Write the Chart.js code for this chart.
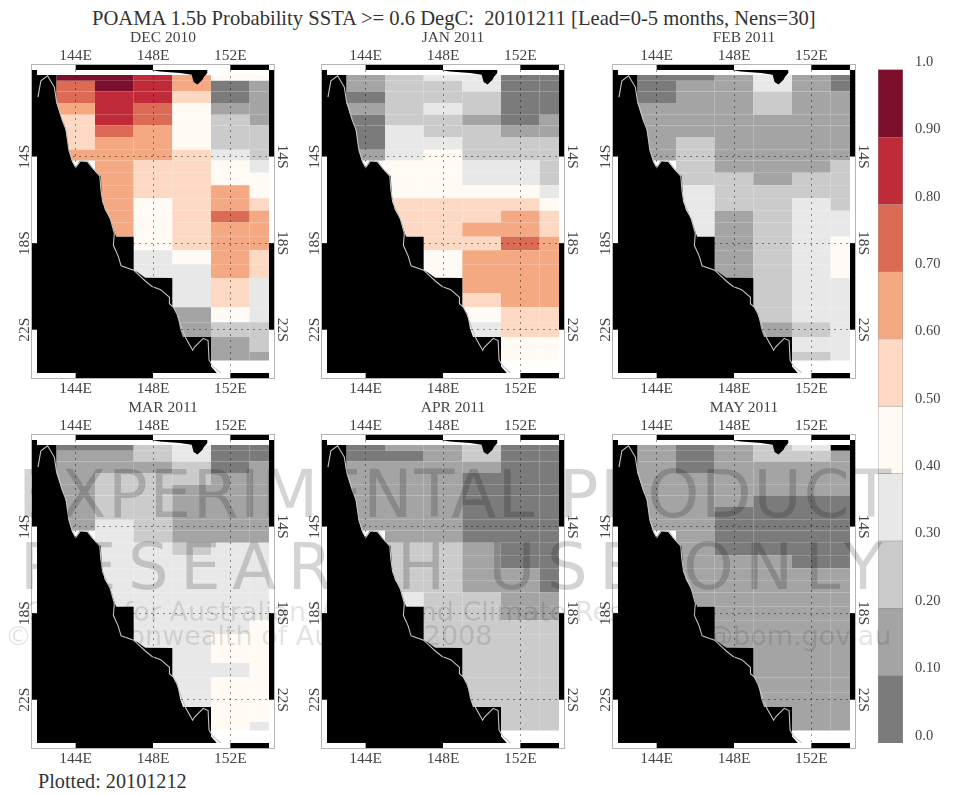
<!DOCTYPE html>
<html>
<head>
<meta charset="utf-8">
<title>POAMA 1.5b Probability SSTA</title>
<script src="https://cdn.jsdelivr.net/npm/chart.js@4"></script>
<style>
  html, body { margin: 0; background: #fff; }
  #page { position: relative; width: 955px; height: 795px; overflow: hidden; filter: blur(0.65px); background: #fff; }
  canvas { position: absolute; }
  .txt { position: absolute; font-family: "Liberation Serif", serif; color: #333; white-space: pre; }
  .ptitle { position: absolute; width: 200px; text-align: center; font-family: "Liberation Serif", serif; font-size: 15.5px; color: #444; }
  .wm { position: absolute; font-family: "DejaVu Sans", sans-serif; color: rgba(0,0,0,0.17); white-space: pre; pointer-events: none; }
</style>
</head>
<body>
<div id="page">
  <div class="txt" style="left:92px;top:7px;font-size:20.6px">POAMA 1.5b Probability SSTA &gt;= 0.6 DegC:  20101211 [Lead=0-5 months, Nens=30]</div>
  <div class="txt" style="left:38px;top:770px;font-size:20.2px">Plotted: 20101212</div>
  <div id="marks"></div>
  <div class="wm" style="left:18px;top:456px;font-size:66px;letter-spacing:1.6px">EXPERIMENTAL PRODUCT</div>
  <div class="wm" style="left:20px;top:530px;font-size:64px;letter-spacing:11.6px">RESEARCH USE ONLY</div>
  <div class="wm" style="left:25px;top:596px;font-size:27px;color:rgba(0,0,0,0.11)">Centre for Australian Water and Climate Research</div>
  <div class="wm" style="left:5px;top:620px;font-size:27px;color:rgba(0,0,0,0.11)">© Commonwealth of Australia 2008</div>
  <div class="wm" style="left:613px;top:620px;font-size:27px;color:rgba(0,0,0,0.11)">poama@bom.gov.au</div>
</div>
<script>
// Grid of the model: column centres (deg E) and row edges (deg, south is negative)
const lons = [144, 146, 148, 150, 152, 154];
const latEdges = [-10.23, -10.5, -10.99, -11.53, -12.07, -12.57, -13.1, -13.68, -14.18, -14.75, -15.32, -15.92,
  -16.5, -17.05, -17.7, -18.33, -18.97, -19.61, -20.3, -20.96, -21.65, -22.34, -23.03, -23.42];

const lonTicks = [144, 148, 152];
const latTicks = [-14, -18, -22];
const frameLons = [142, 144, 148, 152, 154];
const frameLats = [-10, -14, -18, -22, -24];

const _ = null;  // no ocean value under the land
const NA = -1;   // missing ocean cell, plotted black

const dec2010 = [
  [.95,.95,.85,.65,.45,.45],
  [.75,.95,.85,.65,.05,.15],
  [.75,.85,.85,.55,.05,.15],
  [.65,.85,.75,.45,.15,.15],
  [.55,.85,.75,.45,.25,.15],
  [.55,.75,.65,.45,.25,.25],
  [.55,.65,.65,.45,.25,.25],
  [.65,.65,.65,.55,.35,.25],
  [_,.65,.55,.55,.45,.35],
  [_,.65,.55,.55,.45,.45],
  [_,.65,.55,.55,.65,.45],
  [_,.65,.45,.55,.65,.55],
  [_,.65,.45,.55,.75,.65],
  [_,.65,.45,.55,.65,.65],
  [_,_,.45,.55,.65,.65],
  [_,_,.35,.45,.65,.55],
  [_,_,.35,.35,.65,.55],
  [_,_,_,.35,.55,.35],
  [_,_,_,.35,.55,.35],
  [_,_,_,.15,.45,.35],
  [_,_,_,.15,.25,.25],
  [_,_,_,_,.15,.25],
  [_,_,_,_,.15,.15]
];
const jan2011 = [
  [.15,.25,.35,.35,.05,.05],
  [.15,.25,.25,.35,.05,.05],
  [.05,.25,.25,.25,.05,.05],
  [.15,.25,.35,.25,.05,.05],
  [.05,.25,.25,.15,.05,.15],
  [.05,.35,.25,.25,.15,.15],
  [.05,.35,.35,.25,.25,.25],
  [.15,.35,.45,.25,.25,.25],
  [_,.45,.45,.35,.35,.25],
  [_,.45,.45,.35,.35,.25],
  [_,.45,.45,.45,.45,.35],
  [_,.55,.55,.55,.55,.45],
  [_,.55,.55,.55,.65,.55],
  [_,.55,.55,.65,.65,.55],
  [_,_,.55,.55,.75,.65],
  [_,_,.45,.65,.65,.65],
  [_,_,.45,.65,.65,.65],
  [_,_,_,.65,.65,.65],
  [_,_,_,.55,.65,.65],
  [_,_,_,.45,.55,.55],
  [_,_,_,.35,.55,.55],
  [_,_,_,_,.45,.45],
  [_,_,_,_,.45,.45]
];
const feb2011 = [
  [.05,.05,.15,.35,.15,.05],
  [.05,.15,.15,.35,.15,.05],
  [.05,.15,.15,.25,.15,.15],
  [.15,.15,.15,.25,.15,.15],
  [.15,.15,.15,.15,.15,.15],
  [.15,.15,.15,.15,.15,.15],
  [.15,.25,.15,.15,.15,.15],
  [.15,.25,.15,.15,.15,.15],
  [_,.25,.15,.15,.15,.25],
  [_,.25,.25,.15,.25,.25],
  [_,.35,.25,.25,.25,.25],
  [_,.35,.25,.25,.35,.25],
  [_,.35,.15,.25,.35,.35],
  [_,.35,.15,.25,.35,.35],
  [_,_,.15,.25,.35,.45],
  [_,_,.15,.25,.35,.45],
  [_,_,.15,.25,.35,.45],
  [_,_,_,.25,.35,.35],
  [_,_,_,.25,.35,.35],
  [_,_,_,.25,.35,.35],
  [_,_,_,.15,.25,.35],
  [_,_,_,_,.35,.35],
  [_,_,_,_,.25,.35]
];
const mar2011 = [
  [.05,.05,.25,.35,.05,.05],
  [.15,.15,.25,.35,.05,.05],
  [.15,.15,.15,.25,.05,.15],
  [.15,.25,.25,.25,.15,.15],
  [.15,.25,.25,.15,.15,.15],
  [.15,.25,.25,.15,.15,.15],
  [.15,.25,.25,.15,.15,.15],
  [.15,.35,.25,.15,.15,.15],
  [_,.35,.25,.15,.15,.15],
  [_,.35,.35,.25,.35,.35],
  [_,.35,.35,.35,.35,.35],
  [_,.35,.35,.35,.35,.35],
  [_,.35,.35,.35,.35,.35],
  [_,.35,.35,.35,.35,.35],
  [_,_,.35,.35,.35,.35],
  [_,_,.35,.35,.35,.45],
  [_,_,.35,.35,.45,.45],
  [_,_,_,.35,.45,.45],
  [_,_,_,.35,.35,.45],
  [_,_,_,.35,.45,.45],
  [_,_,_,.35,.45,.45],
  [_,_,_,_,.45,.45],
  [_,_,_,_,.45,.35]
];
const apr2011 = [
  [.05,.15,.15,.25,.05,.05],
  [.05,.05,.15,.25,.05,.05],
  [.15,.15,.15,.15,.05,.05],
  [.15,.15,.15,.05,.05,.05],
  [.15,.15,.15,.05,.05,.05],
  [.15,.15,.15,.05,.05,.05],
  [.15,.15,.15,.05,.05,.05],
  [.15,.15,.15,.05,.05,.05],
  [_,.15,.15,.05,.05,.05],
  [_,.25,.25,.15,.05,.05],
  [_,.25,.25,.15,.05,.05],
  [_,.25,.25,.15,.15,.05],
  [_,.25,.25,.15,.15,.05],
  [_,.35,.25,.25,.15,.15],
  [_,_,.25,.25,.15,.15],
  [_,_,.25,.25,.25,.25],
  [_,_,.25,.25,.25,.25],
  [_,_,_,.25,.25,.25],
  [_,_,_,.25,.25,.25],
  [_,_,_,.25,.25,.25],
  [_,_,_,.25,.25,.25],
  [_,_,_,_,.25,.25],
  [_,_,_,_,.25,.25]
];
const may2011 = [
  [.15,.05,.15,.25,.35,NA],
  [.15,.05,.15,.25,.25,.15],
  [.15,.05,.15,.15,.15,.15],
  [.15,.15,.15,.15,.15,.15],
  [.15,.15,.15,.15,.15,.15],
  [.15,.15,.15,.05,.05,.05],
  [.15,.15,.05,.05,.05,.05],
  [.15,.15,.05,.05,.05,.05],
  [_,.15,.05,.05,.05,.05],
  [_,.15,.05,.05,.05,.05],
  [_,.15,.15,.15,.05,.05],
  [_,.15,.15,.15,.15,.15],
  [_,.15,.15,.15,.15,.15],
  [_,.15,.15,.15,.15,.15],
  [_,_,.15,.15,.15,.15],
  [_,_,.15,.15,.15,.15],
  [_,_,.15,.15,.15,.15],
  [_,_,_,.15,.15,.15],
  [_,_,_,.15,.15,.15],
  [_,_,_,.15,.15,.15],
  [_,_,_,.15,.15,.15],
  [_,_,_,_,.15,.15],
  [_,_,_,_,.15,.15]
];

const panelTitles = ["DEC 2010", "JAN 2011", "FEB 2011", "MAR 2011", "APR 2011", "MAY 2011"];
const panelValues = [dec2010, jan2011, feb2011, mar2011, apr2011, may2011];

// Land mask outline, lon then lat
const landLon = [142, 143, 143, 143.2, 143.3, 143.45, 143.55, 143.65, 143.8, 144, 144.2, 144.6, 145, 145.3, 145.35, 145.5, 145.8, 146.05, 146.1, 147, 147, 147.2, 147.6, 149, 149, 149.25, 149.4, 149.55, 151, 151, 151.3, 151.5];
const landLat = [-10.23, -10.23, -11.53, -12.07, -12.3, -12.6, -13.1, -13.7, -14.2, -14.5, -14.2, -14.25, -14.68, -14.9, -15.8, -16.45, -16.9, -17.6, -17.7, -17.7, -19.25, -19.35, -19.6, -19.61, -20.9, -21.25, -21.95, -22.34, -22.34, -23.7, -24, -24];

// Coastline drawn in grey on top of the mask
const coastLon = [142.05, 142.2, 142.55, 142.9, 143, 143.3, 143.5, 143.65, 143.85, 144, 144.25, 144.6, 144.85, 145.25, 145.3, 145.4, 145.8, 146, 145.95, 146.2, 146.35, 147, 147.6, 147.95, 148.4, 148.85, 148.85, 149.05, 149.25, 149.5, 149.7, 150.05, 150.15, 150.6, 150.85, 150.9, 151.1, 151.5];
const coastLat = [-11.25, -10.5, -10.27, -10.8, -11.4, -12.3, -12.75, -13.7, -14.25, -14.5, -14.2, -14.2, -14.5, -14.9, -15.5, -16.1, -16.9, -17.55, -18.1, -18.6, -19.05, -19.25, -19.75, -20, -20.15, -20.5, -20.8, -20.95, -21.3, -21.95, -22.4, -22.95, -22.8, -22.4, -22.5, -23.4, -23.7, -24];

// Island at the top of the map
const islandLon = [147.9, 148.35, 149.4, 150, 150.1, 150.3, 150.55, 150.65, 150.8, 150.82];
const islandLat = [-10.0, -10.07, -10.14, -10.22, -10.55, -10.67, -10.46, -10.3, -10.15, -10.0];

// Colour bar
const levelEdges = [0, .1, .2, .3, .4, .5, .6, .7, .8, .9, 1];
const levelColors = ["#7b7b7b", "#a4a4a4", "#cbcbcb", "#e8e8e8", "#fffaf4", "#fdd9c4", "#f4a982", "#dc6b55", "#c02b39", "#7b0f2c"];
const levelLabels = ["0.0", "0.10", "0.20", "0.30", "0.40", "0.50", "0.60", "0.70", "0.80", "0.90", "1.0"];

// Panel placement (plot area) on the page
const panelLeft = [37, 327, 618, 37, 327, 618];
const panelTop = [70, 70, 70, 440, 440, 440];
const plotW = 232, plotH = 303;
const marginX = 40, marginTop = 40, marginBottom = 30;

Chart.defaults.font.family = '"Liberation Serif", serif';
Chart.defaults.font.size = 15.5;
Chart.defaults.color = "#444";
Chart.defaults.animation = false;

const page = document.getElementById("page");
const marks = document.getElementById("marks");

function addCanvas(left, top, w, h) {
  const c = document.createElement("canvas");
  c.width = w;
  c.height = h;
  c.style.left = left + "px";
  c.style.top = top + "px";
  marks.appendChild(c);
  return c;
}

function colorFor(v) {
  if (v < 0) return "#000";
  for (let i = 0; i < levelColors.length; i++) {
    if (v < levelEdges[i + 1]) return levelColors[i];
  }
  return levelColors[levelColors.length - 1];
}

function toPoints(xs, ys) {
  return xs.map((x, i) => ({ x: x, y: ys[i] }));
}

// Map style border: box with alternating black and white pieces
const frameBorder = {
  id: "frameBorder",
  afterDraw(chart) {
    const { ctx, chartArea: a, scales } = chart;
    const th = 5;
    ctx.save();
    ctx.strokeStyle = "#b5b5b5";
    ctx.lineWidth = 1;
    ctx.strokeRect(a.left - th - 0.5, a.top - th - 0.5, a.right - a.left + 2 * th + 1, a.bottom - a.top + 2 * th + 1);
    ctx.fillStyle = "#000";
    for (let i = 1; i < frameLons.length - 1; i += 2) {
      const x1 = scales.x.getPixelForValue(frameLons[i]);
      const x2 = scales.x.getPixelForValue(frameLons[i + 1]);
      ctx.fillRect(x1, a.top - th, x2 - x1, th);
      ctx.fillRect(x1, a.bottom, x2 - x1, th);
    }
    for (let i = 0; i < frameLats.length - 1; i += 2) {
      const y1 = scales.y.getPixelForValue(frameLats[i]);
      const y2 = scales.y.getPixelForValue(frameLats[i + 1]);
      ctx.fillRect(a.left - th, y1, th, y2 - y1);
      ctx.fillRect(a.right, y1, th, y2 - y1);
    }
    ctx.restore();
  }
};

function setLonTicks(scale) {
  scale.ticks = lonTicks.map(v => ({ value: v }));
}
function setLatTicks(scale) {
  scale.ticks = latTicks.map(v => ({ value: v }));
}

function drawPanel(i) {
  const canvas = addCanvas(panelLeft[i] - marginX, panelTop[i] - marginTop, plotW + 2 * marginX, plotH + marginTop + marginBottom);
  const values = panelValues[i];
  const cells = [], colors = [];
  values.forEach((row, r) => {
    row.forEach((v, c) => {
      if (v === null) return;
      cells.push({ x: lons[c], y: [latEdges[r + 1], latEdges[r]] });
      colors.push(colorFor(v));
    });
  });

  // Month label sits a bit right of the plot centre, as in the original
  const label = document.createElement("div");
  label.className = "ptitle";
  label.textContent = panelTitles[i];
  label.style.left = (panelLeft[i] + plotW / 2 + 10 - 100) + "px";
  label.style.top = (panelTop[i] - 42) + "px";
  page.appendChild(label);

  new Chart(canvas, {
    type: "bar",
    data: {
      datasets: [
        { type: "line", data: toPoints(coastLon, coastLat), borderColor: "#c4c4c4", borderWidth: 1.1, pointRadius: 0, fill: false, order: 0 },
        { type: "line", data: toPoints(landLon, landLat), borderWidth: 0, backgroundColor: "#000", pointRadius: 0, fill: "start", order: 1 },
        { type: "line", data: toPoints(islandLon, islandLat), borderWidth: 0, backgroundColor: "#000", pointRadius: 0, fill: "end", order: 1 },
        { data: cells, backgroundColor: colors, barPercentage: 1, categoryPercentage: 1, borderWidth: 0, inflateAmount: 0, order: 5 }
      ]
    },
    options: {
      responsive: false,
      layout: { padding: 0 },
      plugins: { legend: { display: false }, tooltip: { enabled: false } },
      scales: {
        x: {
          type: "linear", position: "bottom", min: 142, max: 154, offset: false,
          afterBuildTicks: setLonTicks,
          afterFit: s => { s.height = marginBottom; },
          grid: { z: 1, offset: false, color: "rgba(0,0,0,0.42)", drawTicks: false },
          border: { display: false, dash: [2, 4] },
          ticks: { padding: 7, autoSkip: false, maxRotation: 0, callback: v => v + "E" }
        },
        xTop: {
          type: "linear", position: "top", min: 142, max: 154, offset: false,
          afterBuildTicks: setLonTicks,
          afterFit: s => { s.height = marginTop; },
          grid: { display: false, offset: false, drawTicks: false },
          border: { display: false },
          ticks: { padding: 5, autoSkip: false, maxRotation: 0, callback: v => v + "E" }
        },
        y: {
          type: "linear", position: "left", min: -24, max: -10,
          afterBuildTicks: setLatTicks,
          afterFit: s => { s.width = marginX; },
          grid: { z: 1, color: "rgba(0,0,0,0.42)", drawTicks: false },
          border: { display: false, dash: [2, 4] },
          ticks: { padding: 0, crossAlign: "center", minRotation: 90, maxRotation: 90, autoSkip: false, callback: v => -v + "S" }
        },
        yRight: {
          type: "linear", position: "right", min: -24, max: -10,
          afterBuildTicks: setLatTicks,
          afterFit: s => { s.width = marginX; },
          grid: { display: false, drawTicks: false },
          border: { display: false },
          ticks: { padding: 1, crossAlign: "center", minRotation: -90, maxRotation: -90, autoSkip: false, callback: v => -v + "S" }
        }
      }
    },
    plugins: [frameBorder]
  });
}

panelTitles.forEach((t, i) => drawPanel(i));

// Colour bar chart
const barCanvas = addCanvas(868, 40, 87, 723);
new Chart(barCanvas, {
  type: "bar",
  data: {
    labels: ["SSTA"],
    datasets: levelColors.map((col, i) => ({
      data: [levelEdges[i + 1] - levelEdges[i]],
      backgroundColor: col,
      borderColor: "rgba(70,70,70,0.55)",
      borderWidth: 0.7,
      barPercentage: 1,
      categoryPercentage: 1
    }))
  },
  options: {
    responsive: false,
    layout: { padding: { left: 10, right: 0, top: 0, bottom: 20 } },
    plugins: { legend: { display: false }, tooltip: { enabled: false } },
    scales: {
      x: { stacked: true, display: false },
      y: {
        stacked: true, position: "right", min: 0, max: 1,
        afterBuildTicks: s => { s.ticks = levelEdges.map(v => ({ value: v })); },
        afterFit: s => { s.width = 52; },
        grid: { display: false, drawTicks: false },
        border: { display: false },
        ticks: { align: "end", padding: 12, font: { size: 14.5 }, autoSkip: false, callback: (v, i) => levelLabels[i] }
      }
    }
  }
});
</script>
</body>
</html>
